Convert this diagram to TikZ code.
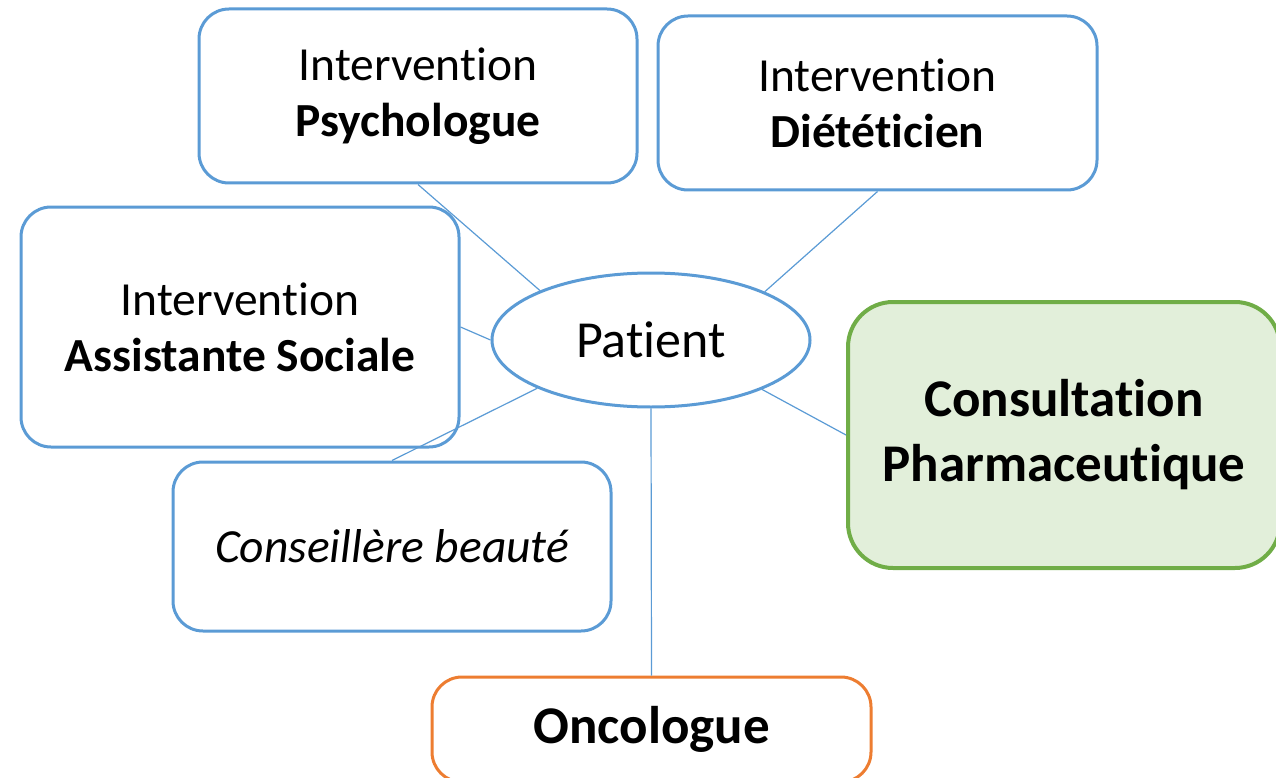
\documentclass[tikz,border=0pt]{standalone}
\usepackage{fontspec}
\setmainfont{Carlito}[Ligatures=NoCommon]
\usetikzlibrary{shapes.geometric}

\definecolor{bleu}{HTML}{5B9BD5}
\definecolor{vert}{HTML}{70AD47}
\definecolor{vertclair}{HTML}{E2EFDA}
\definecolor{orange}{HTML}{ED7D31}

\tikzset{boite/.style = {draw = bleu, line width = 3pt, rounded corners = 30pt,
                         align = center, inner sep = 0pt, fill = white,
                         font = \fontsize{47.5}{56}\selectfont},
         boiteverte/.style = {boite, draw = vert, fill = vertclair, line width = 4pt,
                              rounded corners = 45pt, font = \fontsize{53}{65}\selectfont\bfseries},
         boiteorange/.style = {boite, draw = orange, font = \fontsize{53}{64}\selectfont\bfseries},
         lien/.style = {draw = bleu, line width = 1.2pt}
        }

\begin{document}
\begin{tikzpicture}[x=1pt, y=-1pt]
  \useasboundingbox (0, 0) rectangle (1276, 778);
  \clip (0, 0) rectangle (1276, 778);
  \node[boite, minimum width = 438pt, minimum height = 174pt] (psy) at (418, 96)
      {Intervention\\\textbf{Psychologue}};
  \node[boite, minimum width = 439pt, minimum height = 174pt] (diet) at (877.5, 103)
      {Intervention\\\textbf{Diététicien}};
  \node[boite, minimum width = 438pt, minimum height = 240pt] (social) at (240, 327)
      {Intervention\\\textbf{Assistante Sociale}};
  \node[boite, minimum width = 438pt, minimum height = 169pt] (beaute) at (392, 546.5)
      {\itshape Conseillère beauté};
  \node[boiteverte, minimum width = 432pt, minimum height = 266pt] (pharma) at (1064, 435)
      {Consultation\\Pharmaceutique};
  \node[boiteorange, minimum width = 439pt, minimum height = 105pt] (onco) at (651.5, 729.5)
      {Oncologue};
  \node[ellipse, draw = bleu, line width = 3pt, fill = white, inner sep = 0pt,
        minimum width = 318pt, minimum height = 134pt,
        font = \fontsize{52}{60}\selectfont] (patient) at (651, 340) {Patient};
  % liens vers le patient
  \draw[lien] (psy.south) -- (patient.156);
  \draw[lien] (diet.south) -- (patient.23);
  \draw[lien] (social.east) -- (patient.west);
  \draw[lien] (beaute.north) -- (patient.203);
  \draw[lien] (pharma.west) -- (patient.-24);
  \draw[lien] (onco.north) -- (patient.south);
\end{tikzpicture}
\end{document}
